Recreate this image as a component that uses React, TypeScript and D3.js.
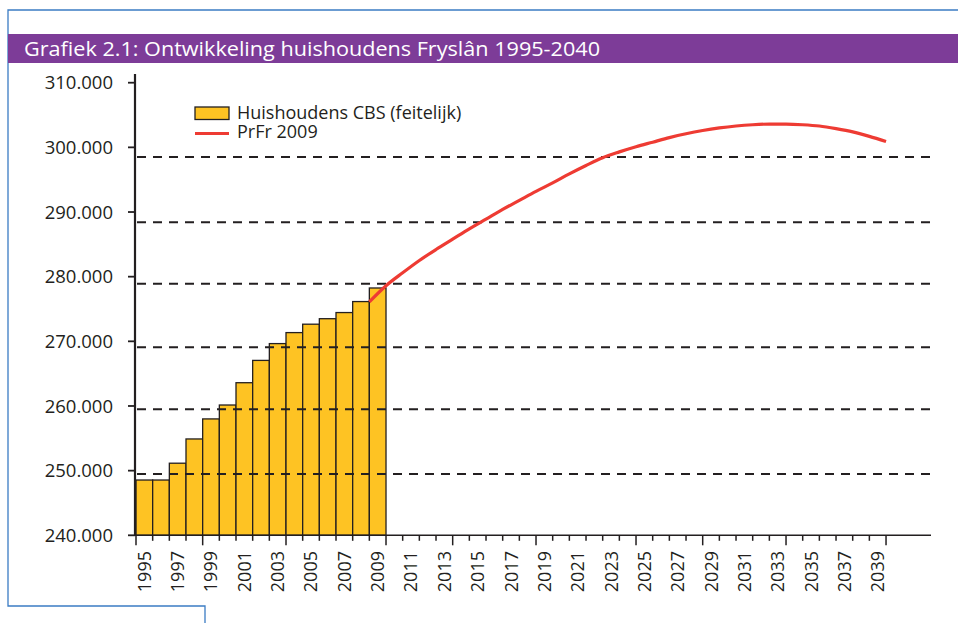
import React, { useEffect, useRef } from "react";
import * as d3 from "d3";

// CBS households (bars)
const barYears = [1995, 1996, 1997, 1998, 1999, 2000, 2001, 2002, 2003, 2004, 2005, 2006, 2007, 2008, 2009];
const barValues = [248550, 248550, 251150, 254900, 258000, 260150, 263600, 267050, 269650, 271350, 272650, 273500, 274450, 276150, 278250];

// PrFr 2009 forecast (line)
const lineYears = [
  2008, 2009, 2010, 2011, 2012, 2013, 2014, 2015, 2016, 2017, 2018, 2019, 2020, 2021, 2022, 2023,
  2024, 2025, 2026, 2027, 2028, 2029, 2030, 2031, 2032, 2033, 2034, 2035, 2036, 2037, 2038, 2039,
];
const lineValues = [
  276100, 278600, 280600, 282500, 284200, 285800, 287400, 288900, 290400, 291800, 293200, 294500,
  295900, 297200, 298400, 299300, 300100, 300800, 301500, 302100, 302600, 303000, 303300, 303500,
  303600, 303600, 303500, 303300, 302900, 302400, 301700, 300900,
];

const yTicks = [240000, 250000, 260000, 270000, 280000, 290000, 300000, 310000];
// dashed lines sit a little off the ticks in the original
const gridValues = [249500, 259500, 269100, 278900, 288400, 298500];
const majorTickYears = [1995, 1999, 2004, 2010, 2014, 2019, 2025, 2029, 2034, 2040];
const axisYears = d3.range(1995, 2041);
const labelYears = axisYears.filter((y) => y % 2 === 1);

const title = "Grafiek 2.1: Ontwikkeling huishoudens Fryslân 1995-2040";
const legendBars = "Huishoudens CBS (feitelijk)";
const legendLine = "PrFr 2009";

const font = "'Open Sans', sans-serif";
const ink = "#231f20";
const blue = "#3b7cc4";

export default function App() {
  const ref = useRef<SVGSVGElement>(null);

  useEffect(() => {
    const svg = d3.select(ref.current);
    svg.selectAll("*").remove();

    const x = d3.scaleBand<number>().domain(axisYears).range([136, 902.7]);
    const y = d3.scaleLinear().domain([240000, 310000]).range([535.3, 82.7]);
    const bw = x.bandwidth();
    const nl = d3.formatLocale({ decimal: ",", thousands: ".", grouping: [3], currency: ["€", ""] });
    const fmt = nl.format(",d");

    // frame
    svg.append("path")
      .attr("d", "M958,10 H8 V606 H205 V623")
      .attr("fill", "none")
      .attr("stroke", blue)
      .attr("stroke-width", 1.3);

    // title bar
    svg.append("rect").attr("x", 8).attr("y", 34).attr("width", 950).attr("height", 29).attr("fill", "#7d3c98");
    svg.append("text")
      .attr("x", 24)
      .attr("y", 55.5)
      .attr("fill", "#fff")
      .attr("font-family", font)
      .attr("font-size", 19.5)
      .attr("textLength", 576)
      .attr("lengthAdjust", "spacingAndGlyphs")
      .text(title);

    // bars
    svg.append("g")
      .selectAll("rect")
      .data(barYears)
      .join("rect")
      .attr("x", (d) => x(d)!)
      .attr("width", bw)
      .attr("y", (d, i) => y(barValues[i]))
      .attr("height", (d, i) => y(240000) - y(barValues[i]))
      .attr("fill", "#fec323")
      .attr("stroke", ink)
      .attr("stroke-width", 1.3);

    // grid (drawn over the bars, as in the original)
    svg.append("g")
      .selectAll("line")
      .data(gridValues)
      .join("line")
      .attr("x1", 137)
      .attr("x2", 930)
      .attr("y1", (d) => y(d))
      .attr("y2", (d) => y(d))
      .attr("stroke", ink)
      .attr("stroke-width", 2)
      .attr("stroke-dasharray", "9,7");

    // forecast line
    const line = d3
      .line<number>()
      .x((d, i) => x(lineYears[i])! + bw)
      .y((d) => y(d))
      .curve(d3.curveMonotoneX);
    svg.append("path")
      .attr("d", line(lineValues))
      .attr("fill", "none")
      .attr("stroke", "#ee3b33")
      .attr("stroke-width", 3.2);

    // y axis
    const ya = svg.append("g");
    ya.append("line").attr("x1", 135).attr("x2", 135).attr("y1", 74).attr("y2", y(240000)).attr("stroke", ink).attr("stroke-width", 2.2);
    ya.selectAll("line.t")
      .data(yTicks)
      .join("line")
      .attr("class", "t")
      .attr("x1", 128)
      .attr("x2", 135)
      .attr("y1", (d) => y(d))
      .attr("y2", (d) => y(d))
      .attr("stroke", ink)
      .attr("stroke-width", 1.8);
    ya.selectAll("text")
      .data(yTicks)
      .join("text")
      .attr("x", 113)
      .attr("y", (d) => y(d))
      .attr("dy", "0.36em")
      .attr("text-anchor", "end")
      .attr("fill", ink)
      .attr("font-family", font)
      .attr("font-size", 18.5)
      .text((d) => fmt(d));

    // x axis
    const xa = svg.append("g");
    xa.append("line").attr("x1", 135).attr("x2", 931).attr("y1", y(240000)).attr("y2", y(240000)).attr("stroke", ink).attr("stroke-width", 1.6);
    xa.selectAll("line.t")
      .data(axisYears)
      .join("line")
      .attr("class", "t")
      .attr("x1", (d) => x(d)!)
      .attr("x2", (d) => x(d)!)
      .attr("y1", y(240000))
      .attr("y2", (d) => y(240000) + (majorTickYears.includes(d) ? 10 : 5.5))
      .attr("stroke", ink)
      .attr("stroke-width", 1.5);
    xa.selectAll("text")
      .data(labelYears)
      .join("text")
      .attr("transform", (d) => `translate(${x(d)! + bw / 2},551) rotate(-90)`)
      .attr("dy", "0.36em")
      .attr("text-anchor", "end")
      .attr("fill", ink)
      .attr("font-family", font)
      .attr("font-size", 18)
      .text((d) => d);

    // legend
    const lg = svg.append("g");
    lg.append("rect").attr("x", 195).attr("y", 107).attr("width", 34).attr("height", 12.5).attr("fill", "#fec323").attr("stroke", ink).attr("stroke-width", 1.3);
    lg.append("line").attr("x1", 195).attr("x2", 229).attr("y1", 133.5).attr("y2", 133.5).attr("stroke", "#ee3b33").attr("stroke-width", 3);
    lg.append("text").attr("x", 237).attr("y", 118.5).attr("fill", ink).attr("font-family", font).attr("font-size", 18).text(legendBars);
    lg.append("text").attr("x", 237).attr("y", 138).attr("fill", ink).attr("font-family", font).attr("font-size", 18).text(legendLine);
  }, []);

  return (
    <svg ref={ref} width={958} height={623} style={{ position: "absolute", left: 0, top: 0, background: "#fff" }}></svg>
  );
}
